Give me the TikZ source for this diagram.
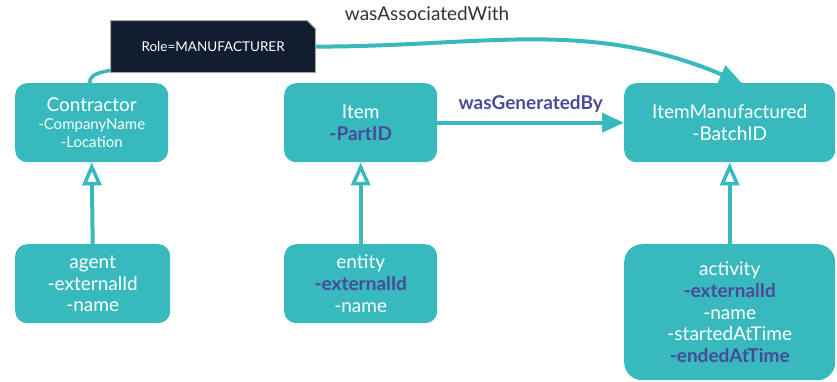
\documentclass[tikz,border=0pt]{standalone}
\usepackage{fontspec}
\setmainfont{Lato}
\usetikzlibrary{arrows.meta,shapes.misc}

\definecolor{teal}{HTML}{37B9BD}
\definecolor{navy}{HTML}{121D30}
\definecolor{attr}{HTML}{4A4A9A}
\definecolor{txt}{HTML}{333333}

\tikzset{
    cls/.style={fill=teal, text=white, rounded corners=12pt, align=center,
        anchor=north west, inner sep=0pt, font=\fontsize{19}{21.7}\selectfont},
    key/.style={text=attr, font=\bfseries},
    link/.style={teal, line width=4pt},
    isa/.style={link, -{Triangle[open, length=23pt, width=19pt, line width=3.5pt]}},
    rel/.style={link, -{Triangle[length=22pt, width=19pt]}},
}

\begin{document}
\begin{tikzpicture}[x=1pt, y=-1pt]
    \useasboundingbox (0,0) rectangle (837,381);

    % classes of the model
    \node[cls, minimum width=153pt, minimum height=79pt] (contractor) at (15,83)
        {Contractor\\[-4pt]{\fontsize{15}{18}\selectfont -CompanyName}\\[-3pt]{\fontsize{15}{18}\selectfont -Location}};
    \node[cls, minimum width=153pt, minimum height=79pt] (item) at (284,83)
        {Item\\{\color{attr}\bfseries -PartID}};
    \node[cls, minimum width=211pt, minimum height=79pt] (made) at (624,83)
        {ItemManufactured\\-BatchID};

    % base types
    \node[cls, minimum width=155pt, minimum height=79pt] (agent) at (15,244)
        {agent\\-externalId\\-name};
    \node[cls, minimum width=153pt, minimum height=79pt] (entity) at (284,244)
        {entity\\{\color{attr}\bfseries -externalId}\\-name};
    \node[cls, minimum width=211pt, minimum height=136pt, rounded corners=18pt] (activity) at (624,244)
        {activity\\{\color{attr}\bfseries -externalId}\\-name\\-startedAtTime\\{\color{attr}\bfseries -endedAtTime}};

    % role attached to the association
    \node[chamfered rectangle, chamfered rectangle corners=north east, chamfered rectangle xsep=8pt,
        fill=navy, draw=gray!70, line width=1.2pt, text=white, inner sep=0pt,
        minimum width=205pt, minimum height=52pt, anchor=north west,
        font=\fontsize{13.5}{16}\selectfont] (role) at (110,20) {Role=MANUFACTURER};

    \draw[isa] (agent.north) -- (contractor.south);
    \draw[isa] (entity.north) -- (item.south);
    \draw[isa] (activity.north -| made.south) -- (made.south);

    \draw[rel] (item.east) -- node[above=5pt, key, font=\fontsize{19}{22}\selectfont\bfseries] {wasGeneratedBy} (made.west);

    \draw[link, line width=3.5pt] ([xshift=-2pt]contractor.north) to[out=90, in=195] ([yshift=3pt]role.south west);
    \draw[rel] (role.east) to[out=0, in=157] node[pos=0.24, above=17pt, text=txt,
        font=\fontsize{19}{21}\selectfont] {wasAssociatedWith} ([xshift=12pt]made.north);
\end{tikzpicture}
\end{document}
